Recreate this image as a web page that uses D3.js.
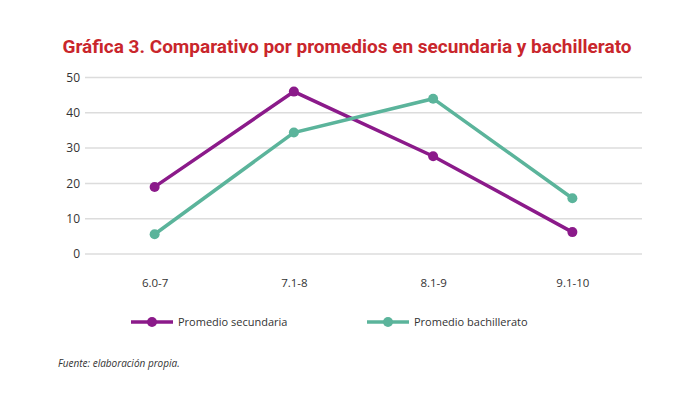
<!DOCTYPE html>
<meta charset="utf-8">
<style>
body { margin: 0; background: #fff; }
text { font-family: "Open Sans", "DejaVu Sans", sans-serif; fill: #333; }
.title { font-family: "Liberation Sans Narrow", "Roboto", sans-serif; font-weight: bold; fill: #c9262c; font-size: 19px; }
.grid line { stroke: #dcdcdc; stroke-width: 1.5; }
.foot { font-style: italic; font-size: 10px; }
</style>
<body>
<script src="https://d3js.org/d3.v7.min.js"></script>
<script>

var categories = ["6.0-7", "7.1-8", "8.1-9", "9.1-10"];
var secundaria = [19, 46, 27.7, 6.2];
var bachillerato = [5.6, 34.4, 44, 15.8];
var yTicks = [0, 10, 20, 30, 40, 50];

var series = [
  { name: "Promedio secundaria", values: secundaria, color: "#8b1a8a" },
  { name: "Promedio bachillerato", values: bachillerato, color: "#5bb49b" }
];

var width = 690,
    height = 399;

var svg = d3.select("body").append("svg")
    .attr("width", width)
    .attr("height", height);

svg.append("text")
    .attr("class", "title")
    .attr("x", 347)
    .attr("y", 53)
    .attr("text-anchor", "middle")
    .text("Gráfica 3. Comparativo por promedios en secundaria y bachillerato");

var x = d3.scalePoint()
    .domain(categories)
    .range([85, 642])
    .padding(0.5);

var y = d3.scaleLinear()
    .domain([0, 50])
    .range([254, 77.5]);

var grid = svg.append("g").attr("class", "grid");
grid.selectAll("line")
    .data(yTicks)
  .enter().append("line")
    .attr("x1", 85)
    .attr("x2", 642)
    .attr("y1", function(d) { return y(d); })
    .attr("y2", function(d) { return y(d); });

svg.append("g")
    .attr("transform", "translate(80,0)")
    .call(d3.axisLeft(y).tickValues(yTicks).tickSize(0).tickPadding(0))
    .call(function(g) { g.select(".domain").remove(); })
    .selectAll("text").attr("font-size", 12).attr("font-family", null).attr("fill", "#333");

svg.append("g")
    .attr("transform", "translate(0,276)")
    .call(d3.axisBottom(x).tickSize(0).tickPadding(3))
    .call(function(g) { g.select(".domain").remove(); })
    .selectAll("text").attr("font-size", 11.5).attr("font-family", null).attr("fill", "#333");

var line = d3.line()
    .x(function(d, i) { return x(categories[i]); })
    .y(function(d) { return y(d); });

var s = svg.selectAll(".series")
    .data(series)
  .enter().append("g")
    .attr("class", "series");

s.append("path")
    .attr("d", function(d) { return line(d.values); })
    .attr("fill", "none")
    .attr("stroke", function(d) { return d.color; })
    .attr("stroke-width", 3.5);

s.selectAll("circle")
    .data(function(d) { return d.values.map(function(v, i) { return { v: v, i: i, color: d.color }; }); })
  .enter().append("circle")
    .attr("cx", function(d) { return x(categories[d.i]); })
    .attr("cy", function(d) { return y(d.v); })
    .attr("r", 5)
    .attr("fill", function(d) { return d.color; });

// legend
var legend = svg.selectAll(".legend")
    .data(series)
  .enter().append("g")
    .attr("class", "legend")
    .attr("transform", function(d, i) { return "translate(" + (131 + i * 236) + ",322)"; });

legend.append("line")
    .attr("x1", 0).attr("x2", 42)
    .attr("stroke", function(d) { return d.color; })
    .attr("stroke-width", 3.5);

legend.append("circle")
    .attr("cx", 21)
    .attr("r", 5)
    .attr("fill", function(d) { return d.color; });

legend.append("text")
    .attr("x", 47)
    .attr("dy", "0.35em")
    .attr("font-size", 11)
    .text(function(d) { return d.name; });

svg.append("text")
    .attr("class", "foot")
    .attr("x", 58)
    .attr("y", 367)
    .text("Fuente: elaboración propia.");

</script>
